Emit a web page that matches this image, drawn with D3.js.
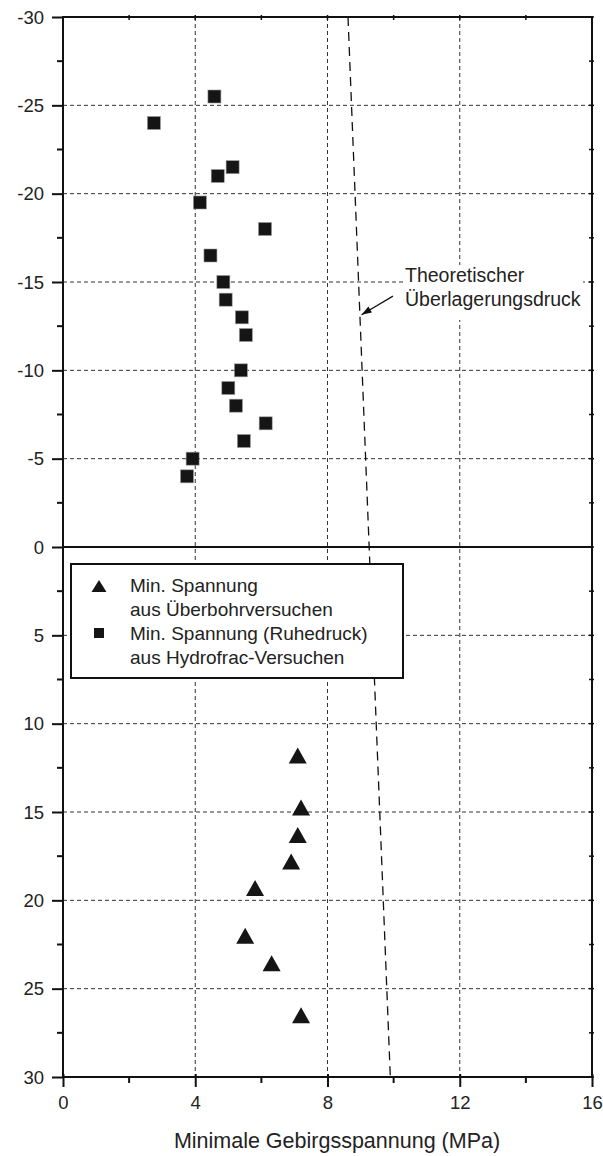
<!DOCTYPE html>
<html><head><meta charset="utf-8">
<script src="https://cdn.jsdelivr.net/npm/d3@7"></script>
<style>body{margin:0;background:#fff}svg{display:block;font-family:"Liberation Sans",Arial,sans-serif}</style>
</head><body><svg id="c" width="603" height="1156"></svg>
<script>
// Data
const xTicks = [0, 4, 8, 12, 16];
const xMinorTicks = [2, 6, 10, 14];
const yTicks = [-30, -25, -20, -15, -10, -5, 0, 5, 10, 15, 20, 25, 30];
const yMinorTicks = [-27.5, -22.5, -17.5, -12.5, -7.5, -2.5, 2.5, 7.5, 12.5, 17.5, 22.5, 27.5];
// Hydrofrac (squares): stress [MPa], depth value
const hydroX = [4.58, 2.75, 5.13, 4.68, 4.14, 6.11, 4.46, 4.85, 4.92, 5.41, 5.53, 5.38, 5.00, 5.23, 6.13, 5.47, 3.92, 3.75];
const hydroY = [-25.5, -24.0, -21.5, -21.0, -19.5, -18.0, -16.5, -15.0, -14.0, -13.0, -12.0, -10.0, -9.0, -8.0, -7.0, -6.0, -5.0, -4.0];
// Overcoring (triangles)
const overX = [7.10, 7.20, 7.10, 6.90, 5.81, 5.51, 6.31, 7.20];
const overY = [11.8, 14.75, 16.3, 17.8, 19.3, 22.0, 23.56, 26.5];
// Theoretical overburden line
const theoX = [8.62, 9.90];
const theoY = [-30, 30];
const arrowX = [9.98, 9.03];
const arrowY = [-14.2, -13.15];
const legendLabels = [["Min. Spannung", "aus Überbohrversuchen"], ["Min. Spannung (Ruhedruck)", "aus Hydrofrac-Versuchen"]];
const annotLines = ["Theoretischer", "Überlagerungsdruck"];
const xTitle = "Minimale Gebirgsspannung (MPa)";

const svg = d3.select("#c");
const L = 63, R = 592, T = 17, B = 1077;
const x = d3.scaleLinear().domain([0, 16]).range([L, R]);
const y = d3.scaleLinear().domain([-30, 30]).range([T, B]);
const fmt = d => String(d);

// grid
const g = svg.append("g");
g.selectAll(".hg").data(yTicks.filter(v => v !== 0 && v !== -30 && v !== 30)).join("line")
  .attr("x1", L).attr("x2", R).attr("y1", d => y(d)).attr("y2", d => y(d))
  .attr("stroke", "#333").attr("stroke-width", 1).attr("stroke-dasharray", "4,3");
g.selectAll(".vg").data([4, 8, 12]).join("line")
  .attr("y1", T).attr("y2", B).attr("x1", d => x(d)).attr("x2", d => x(d))
  .attr("stroke", "#333").attr("stroke-width", 1).attr("stroke-dasharray", "4,3");

// theoretical line
svg.append("line").attr("x1", x(theoX[0])).attr("y1", y(theoY[0])).attr("x2", x(theoX[1])).attr("y2", y(theoY[1]))
  .attr("stroke", "#111").attr("stroke-width", 1.3).attr("stroke-dasharray", "9,6");

// zero line
svg.append("line").attr("x1", L).attr("x2", R).attr("y1", y(0)).attr("y2", y(0)).attr("stroke", "#111").attr("stroke-width", 2);

// axes (box)
const axisBottom = d3.axisBottom(x).tickValues(xTicks).tickSize(10).tickPadding(9).tickFormat(fmt);
const gb = svg.append("g").attr("transform", `translate(0,${B})`).call(axisBottom);
gb.select(".domain").remove();
gb.selectAll(".tick line").attr("y1", -3).attr("stroke-width", 2).attr("stroke", "#111");
gb.selectAll("text").attr("font-size", 18.5).attr("fill", "#222").attr("font-family", "Liberation Sans, Arial");
gb.selectAll(".minor").data(xMinorTicks).join("line").attr("class", "minor")
  .attr("x1", d => x(d)).attr("x2", d => x(d)).attr("y1", 0).attr("y2", 6).attr("stroke", "#111").attr("stroke-width", 2);

const axisLeft = d3.axisLeft(y).tickValues(yTicks).tickSize(11).tickPadding(8).tickFormat(fmt);
const gl = svg.append("g").attr("transform", `translate(${L},0)`).call(axisLeft);
gl.select(".domain").remove();
gl.selectAll(".tick line").attr("stroke-width", 2).attr("stroke", "#111");
gl.selectAll("text").attr("font-size", 18.5).attr("fill", "#222").attr("font-family", "Liberation Sans, Arial").attr("dy", "0.34em");
gl.selectAll(".minor").data(yMinorTicks).join("line").attr("class", "minor")
  .attr("y1", d => y(d)).attr("y2", d => y(d)).attr("x1", 0).attr("x2", -6).attr("stroke", "#111").attr("stroke-width", 2);

// top & right ticks (inward, small)
svg.append("g").selectAll("line").data(xMinorTicks.concat([4, 8, 12])).join("line")
  .attr("x1", d => x(d)).attr("x2", d => x(d)).attr("y1", T - 2).attr("y2", T + 3).attr("stroke", "#111").attr("stroke-width", 1.5);
svg.append("g").selectAll("line").data(yTicks.concat(yMinorTicks)).join("line")
  .attr("y1", d => y(d)).attr("y2", d => y(d)).attr("x1", R - 3).attr("x2", R + 2).attr("stroke", "#111").attr("stroke-width", 1.5);

svg.append("rect").attr("x", L).attr("y", T).attr("width", R - L).attr("height", B - T)
  .attr("fill", "none").attr("stroke", "#111").attr("stroke-width", 2);

// annotation
const ann = svg.append("g");
ann.append("rect").attr("x", 403).attr("y", 265).attr("width", 180).attr("height", 55).attr("fill", "#fff");
ann.selectAll("text").data(annotLines).join("text")
  .attr("x", 405).attr("y", (d, i) => 282 + i * 24).attr("font-size", 19.5).attr("fill", "#222").text(d => d);
const ax1 = x(arrowX[0]), ay1 = y(arrowY[0]), ax2 = x(arrowX[1]), ay2 = y(arrowY[1]);
ann.append("line").attr("x1", ax1).attr("y1", ay1).attr("x2", ax2).attr("y2", ay2).attr("stroke", "#111").attr("stroke-width", 1.2);
const ang = Math.atan2(ay2 - ay1, ax2 - ax1);
const hl = 10, hw = 3.5;
const bx = ax2 - hl * Math.cos(ang), by = ay2 - hl * Math.sin(ang);
ann.append("path").attr("d", `M${ax2},${ay2}L${bx - hw * Math.sin(ang)},${by + hw * Math.cos(ang)}L${bx + hw * Math.sin(ang)},${by - hw * Math.cos(ang)}Z`).attr("fill", "#111");

// markers
const tri = (w, h) => `M0,${-h / 2}L${w / 2},${h / 2}L${-w / 2},${h / 2}Z`;
svg.append("g").selectAll("rect").data(hydroX.map((v, i) => [v, hydroY[i]])).join("rect")
  .attr("x", d => x(d[0]) - 6.5).attr("y", d => y(d[1]) - 6.5).attr("width", 13).attr("height", 13)
  .attr("fill", "#151515").attr("stroke", "#999").attr("stroke-width", 0.6);
svg.append("g").selectAll("path").data(overX.map((v, i) => [v, overY[i]])).join("path")
  .attr("transform", d => `translate(${x(d[0])},${y(d[1])})`).attr("d", tri(18, 16)).attr("fill", "#151515");

// legend
const lg = svg.append("g");
lg.append("rect").attr("x", 71).attr("y", 564).attr("width", 332).attr("height", 114).attr("fill", "#fff").attr("stroke", "#111").attr("stroke-width", 2);
lg.append("path").attr("transform", "translate(99,586)").attr("d", tri(15, 12)).attr("fill", "#151515");
lg.append("rect").attr("x", 94).attr("y", 628).attr("width", 10).attr("height", 10).attr("fill", "#151515");
legendLabels.flat().forEach((t, i) => {
  lg.append("text").attr("x", 130).attr("y", 592 + i * 24).attr("font-size", 19).attr("fill", "#222").text(t);
});

// x title
svg.append("text").attr("x", 337).attr("y", 1148).attr("text-anchor", "middle").attr("font-size", 21.5).attr("fill", "#222").text(xTitle);
</script></body></html>
